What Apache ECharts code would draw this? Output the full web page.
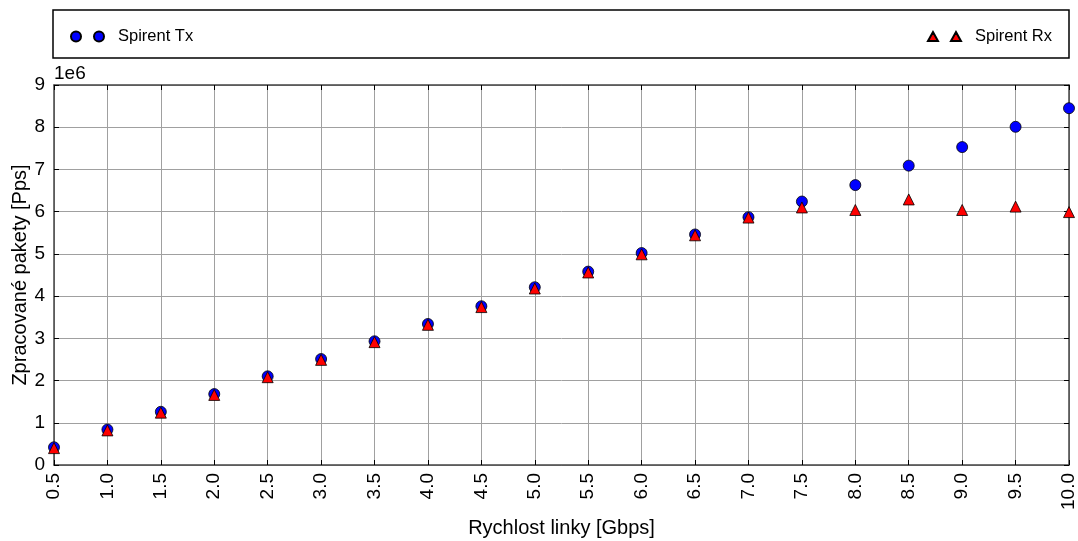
<!DOCTYPE html>
<html>
<head>
<meta charset="utf-8">
<script src="https://cdn.jsdelivr.net/npm/echarts@6/dist/echarts.min.js"></script>
<style>html,body{margin:0;padding:0;background:#fff}#c{width:1078px;height:541px}</style>
</head>
<body>
<div id="c"></div>
<script>
const speeds = [0.5,1.0,1.5,2.0,2.5,3.0,3.5,4.0,4.5,5.0,5.5,6.0,6.5,7.0,7.5,8.0,8.5,9.0,9.5,10.0];
const txValues = [0.42,0.84,1.26,1.68,2.10,2.51,2.93,3.34,3.76,4.21,4.58,5.02,5.46,5.87,6.24,6.63,7.09,7.53,8.01,8.45];
const rxValues = [0.40,0.82,1.24,1.66,2.08,2.49,2.91,3.32,3.74,4.18,4.56,4.99,5.44,5.86,6.10,6.04,6.29,6.04,6.12,5.99];
const scale = 1e6;
const xTickLabels = speeds.map(v => v.toFixed(1));
const FONT = "'Liberation Sans', Arial, sans-serif";

const chart = echarts.init(document.getElementById('c'), null, {renderer: 'canvas'});
const twoCircles = 'path://M0,5a5,5 0 1,0 10,0a5,5 0 1,0 -10,0M23,5a5,5 0 1,0 10,0a5,5 0 1,0 -10,0';
const twoTris = 'path://M5,0L10,9L0,9ZM28,0L33,9L23,9Z';
const axisColor = '#444';
const gridColor = '#a0a0a0';
chart.setOption({
  animation: false,
  textStyle: {fontFamily: FONT},
  graphic: [
    {type: 'rect', shape: {x: 53, y: 10, width: 1016, height: 48}, style: {fill: '#fff', stroke: '#000', lineWidth: 1.5}, z: 0},
    {type: 'text', left: 54, top: 64, style: {text: '1e6', fontSize: 19, fontFamily: FONT, fill: '#000'}}
  ],
  legend: [
    {data: [{name: 'Spirent Tx', icon: twoCircles}], left: 65, top: 23, itemWidth: 33, itemHeight: 10,
     textStyle: {fontSize: 16.5, color: '#000', fontFamily: FONT, padding: [0, 0, 0, 9]}, z: 5},
    {data: [{name: 'Spirent Rx', icon: twoTris}], right: 21, top: 23, itemWidth: 33, itemHeight: 10,
     textStyle: {fontSize: 16.5, color: '#000', fontFamily: FONT, padding: [0, 0, 0, 9]}, z: 5}
  ],
  grid: {left: 54, right: 9, top: 85, bottom: 76, containLabel: false, outerBoundsMode: 'none'},
  xAxis: [
    {type: 'value', min: 0.5, max: 10, interval: 0.5, position: 'bottom',
     name: 'Rychlost linky [Gbps]', nameLocation: 'middle', nameGap: 53, nameMoveOverlap: false,
     nameTextStyle: {fontSize: 20, color: '#000', fontFamily: FONT},
     axisLine: {show: true, onZero: false, lineStyle: {color: axisColor, width: 1.5}},
     axisTick: {show: true, inside: true, length: 5, lineStyle: {color: '#000'}},
     axisLabel: {rotate: 90, fontSize: 19, color: '#000', margin: 8, fontFamily: FONT,
       formatter: v => xTickLabels[Math.round((v - 0.5) / 0.5)] || v.toFixed(1)},
     splitLine: {show: true, lineStyle: {color: gridColor, width: 1}}},
    {type: 'value', min: 0.5, max: 10, interval: 0.5, position: 'top',
     axisLine: {show: true, onZero: false, lineStyle: {color: axisColor, width: 1.5}},
     axisTick: {show: true, inside: true, length: 5, lineStyle: {color: '#000'}},
     axisLabel: {show: false}, splitLine: {show: false}}
  ],
  yAxis: [
    {type: 'value', min: 0, max: 9 * scale, interval: scale, position: 'left',
     name: 'Zpracované pakety [Pps]', nameLocation: 'middle', nameGap: 24, nameMoveOverlap: false,
     nameTextStyle: {fontSize: 20, color: '#000', fontFamily: FONT},
     axisLine: {show: true, onZero: false, lineStyle: {color: axisColor, width: 1.5}},
     axisTick: {show: true, inside: true, length: 5, lineStyle: {color: '#000'}},
     axisLabel: {fontSize: 19, color: '#000', margin: 9, fontFamily: FONT, formatter: v => String(Math.round(v / scale))},
     splitLine: {show: true, lineStyle: {color: gridColor, width: 1}}},
    {type: 'value', min: 0, max: 9 * scale, interval: scale, position: 'right',
     axisLine: {show: true, onZero: false, lineStyle: {color: axisColor, width: 1.5}},
     axisTick: {show: true, inside: true, length: 5, lineStyle: {color: '#000'}},
     axisLabel: {show: false}, splitLine: {show: false}}
  ],
  series: [
    {name: 'Spirent Tx', type: 'scatter', symbol: 'circle', symbolSize: 11,
     itemStyle: {color: '#0000ff', borderColor: '#000', borderWidth: 0.8, opacity: 1},
     data: speeds.map((s, i) => [s, txValues[i] * scale]), z: 3, clip: false},
    {name: 'Spirent Rx', type: 'scatter', symbol: 'triangle', symbolSize: 11,
     itemStyle: {color: '#ff0000', borderColor: '#000', borderWidth: 0.8, opacity: 1},
     data: speeds.map((s, i) => [s, rxValues[i] * scale]), z: 4, clip: false}
  ]
});
</script>
</body>
</html>
